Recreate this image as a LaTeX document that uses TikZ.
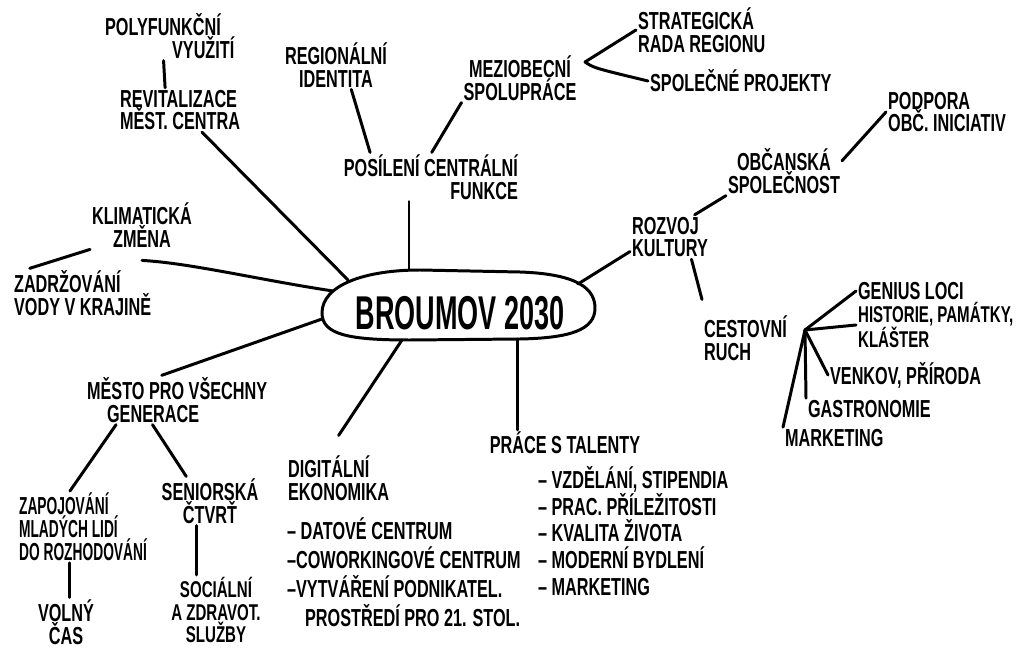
\documentclass[tikz,border=0pt]{standalone}
\usepackage{fontspec}
\newfontfamily\handfont[FakeStretch=0.66]{Liberation Sans}
\newfontfamily\handnarrow[FakeStretch=0.56]{Liberation Sans}
\newfontfamily\titlefont[FakeStretch=0.57]{Liberation Sans}
\usetikzlibrary{calc}
\begin{document}
\begin{tikzpicture}[x=0.02cm,y=-0.02cm,
  lbl/.style={inner sep=1pt, align=center, text=black,
    font=\handfont\bfseries\fontsize{14}{13}\selectfont},
  lblL/.style={lbl, align=left},
  lblN/.style={lblL, font=\handnarrow\bfseries\fontsize{14}{13}\selectfont},
  lblS/.style={lblL, font=\handfont\bfseries\fontsize{13}{12.5}\selectfont},
  lblT/.style={lbl, font=\handfont\bfseries\fontsize{13}{13}\selectfont},
  listD/.style={lblL, font=\handfont\bfseries\fontsize{14}{16.4}\selectfont},
  listP/.style={lblL, font=\handfont\bfseries\fontsize{14}{15.3}\selectfont},
  titlestyle/.style={inner sep=0pt, font=\titlefont\bfseries\fontsize{27}{27}\selectfont},
  conn/.style={draw=black, line width=1.7pt, line cap=round, line join=round}]
\fill[white] (0,0) rectangle (1031,648);
\useasboundingbox (0,0) rectangle (1031,648);

% hub
\draw[conn] (322,313) .. controls (322,285) and (365,270) .. (420,270) -- (520,272)
  .. controls (580,274) and (595,290) .. (595,308)
  .. controls (595,330) and (570,338) .. (520,339) -- (410,340)
  .. controls (350,340) and (322,335) .. (322,313) -- cycle;
\node[titlestyle] (hub) at (460,313) {BROUMOV 2030};
\coordinate (hRev) at (348,280);
\coordinate (hKli) at (333,291);
\coordinate (hMes) at (322,319);
\coordinate (hDig) at (402,340);
\coordinate (hPra) at (517,339);
\coordinate (hRoz) at (578,284);
\coordinate (hPos) at (409,270);

% nodes
\node[lblL,anchor=west] (poly) at (103,36) {POLYFUNKČNÍ\\\hspace*{1.34cm}VYUŽITÍ};
\node[lblL,anchor=west] (revit) at (118,110) {REVITALIZACE\\MĚST. CENTRA};
\node[lbl] (region) at (336,65) {REGIONÁLNÍ\\IDENTITA};
\node[lbl] (mezi) at (520,78) {MEZIOBECNÍ\\SPOLUPRÁCE};
\node[lblL,anchor=west] (strat) at (636,30) {STRATEGICKÁ\\RADA REGIONU};
\node[lbl,anchor=west] (spol) at (648,81) {SPOLEČNÉ PROJEKTY};
\node[lbl,align=right,anchor=east] (posil) at (520,177) {POSÍLENÍ CENTRÁLNÍ\\FUNKCE};
\node[lblL,anchor=west] (podpora) at (886,112) {PODPORA\\OBČ. INICIATIV};
\node[lbl] (obc) at (784,171) {OBČANSKÁ\\SPOLEČNOST};
\node[lblL,anchor=west] (rozvoj) at (630,237) {ROZVOJ\\KULTURY};
\node[lblL,anchor=west] (cest) at (702,338) {CESTOVNÍ\\RUCH};
\node[lbl,anchor=west] (genius) at (856,291) {GENIUS LOCI};
\node[lblS,anchor=west] (hist) at (856,325) {HISTORIE, PAMÁTKY,\\KLÁŠTER};
\node[lbl,anchor=west] (venkov) at (828,375) {VENKOV, PŘÍRODA};
\node[lbl,anchor=west] (gastro) at (806,409) {GASTRONOMIE};
\node[lbl,anchor=west] (mark) at (783,438) {MARKETING};
\node[lbl] (klima) at (142,225) {KLIMATICKÁ\\ZMĚNA};
\node[lblL,anchor=west] (zadr) at (12,293) {ZADRŽOVÁNÍ\\VODY V KRAJINĚ};
\node[lblL,anchor=west] (mesto) at (85,400) {MĚSTO PRO VŠECHNY\\\hspace*{0.4cm}GENERACE};
\node[lblN,anchor=west] (zapoj) at (17,527) {ZAPOJOVÁNÍ\\MLADÝCH LIDÍ\\DO ROZHODOVÁNÍ};
\node[lbl] (volny) at (66,622) {VOLNÝ\\ČAS};
\node[lbl] (senior) at (210,501) {SENIORSKÁ\\ČTVRŤ};
\node[lblT] (social) at (216,610) {SOCIÁLNÍ\\A ZDRAVOT.\\SLUŽBY};
\node[lblL,anchor=west] (digi) at (286,478) {DIGITÁLNÍ\\EKONOMIKA};
\node[listD,anchor=north west] (digilist) at (285,516) {– DATOVÉ CENTRUM\\–COWORKINGOVÉ CENTRUM\\–VYTVÁŘENÍ PODNIKATEL.\\\hspace*{0.36cm}PROSTŘEDÍ PRO 21. STOL.};
\node[lbl] (prace) at (565,443) {PRÁCE S TALENTY};
\node[listP,anchor=north west] (pracelist) at (536,464) {– VZDĚLÁNÍ, STIPENDIA\\– PRAC. PŘÍLEŽITOSTI\\– KVALITA ŽIVOTA\\– MODERNÍ BYDLENÍ\\– MARKETING};

\coordinate (fork) at (585,62);
\coordinate (fan) at (805,330);

% connectors
\draw[conn] (poly.-104) -- (revit.124);
\draw[conn] (revit) -- (hRev);
\draw[conn] (region.-58) -- (posil.158);
\draw[conn] (mezi.south west) -- (posil.88);
\draw[conn] (posil.south -| hPos) -- (hPos);
\draw[conn] (strat.west) -- (fork) .. controls (594,68) .. (spol.west);
\draw[conn] ([yshift=-0.22cm]klima.south) .. controls (190,263) and (260,280) .. (hKli);
\draw[conn] (zadr.155) -- (klima.south west);
\draw[conn] (hMes) -- (mesto.122);
\draw[conn] (mesto.-158) -- (zapoj.110);
\draw[conn] (mesto.-135) -- (senior.134);
\draw[conn] (senior.-118) -- (senior.-118 |- social.north);
\draw[conn] (zapoj.-110) -- (zapoj.-110 |- volny.north);
\draw[conn] (hDig) -- ([yshift=0.36cm]digi.north);
\draw[conn] (hPra) -- (prace.north -| hPra);
\draw[conn] (hRoz) -- (rozvoj.-160);
\draw[conn] (rozvoj.42) -- (obc.south west);
\draw[conn] (obc.10) -- (podpora.west);
\draw[conn] (rozvoj.-46) -- ([yshift=0.28cm]cest.north west);
\draw[conn] (fan) -- (genius.west);
\draw[conn] (fan) -- (hist.west);
\draw[conn] (fan) -- (venkov.west);
\draw[conn] (fan) -- (gastro.north west);
\draw[conn] (fan) -- (mark.north west);
\end{tikzpicture}
\end{document}
